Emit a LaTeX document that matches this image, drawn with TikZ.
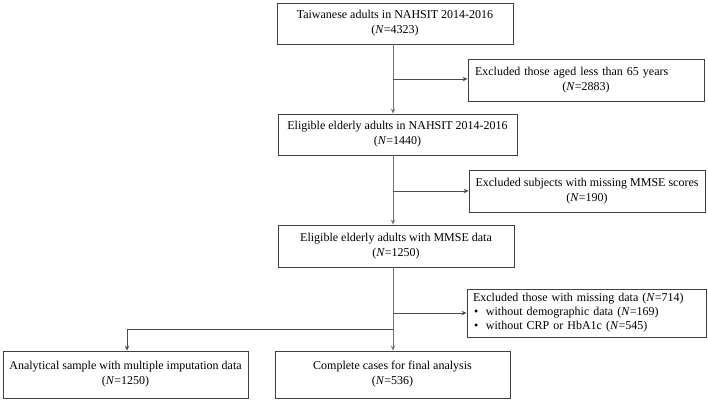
\documentclass[tikz,border=0pt]{standalone}
\usepackage{fontspec}
\setmainfont{Liberation Serif}
\usetikzlibrary{arrows.meta}
\begin{document}
\begin{tikzpicture}[x=1pt,y=-1pt,
  box/.style={draw=black!75,line width=0.9pt,minimum height=#1,inner sep=0pt,align=center,font=\fontsize{12}{15}\selectfont},
  box/.default=41pt,
  vline/.style={draw=black!55,line width=0.9pt},
  hline/.style={draw=black!70,line width=0.7pt},
  tip/.style={-{Stealth[length=5pt,width=4.5pt]}}]
\useasboundingbox (0,0) rectangle (708,400);
\node[box,minimum width=236pt] (b1) at (395,23.5) {Taiwanese adults in NAHSIT 2014-2016\\(\textit{N}=4323)};
\node[box,minimum width=239pt] (b2) at (397.5,134.5) {Eligible elderly adults in NAHSIT 2014-2016\\(\textit{N}=1440)};
\node[box=42pt,minimum width=236pt] (b3) at (396,246) {Eligible elderly adults with MMSE data\\(\textit{N}=1250)};
\node[box=47pt,minimum width=245pt] (b4) at (125.5,374.5) {Analytical sample with multiple imputation data\\(\textit{N}=1250)};
\node[box=47pt,minimum width=235pt] (b5) at (392.5,374.5) {Complete cases for final analysis\\(\textit{N}=536)};
\node[box=42pt,minimum width=236pt,text width=222pt,align=left] (e1) at (586,80) {Excluded those aged less than 65 years\\\makebox[222pt]{(\textit{N}=2883)}};
\node[box=42pt,minimum width=236pt] (e2) at (587,191) {Excluded subjects with missing MMSE scores\\(\textit{N}=190)};
\node[box=48pt,minimum width=239pt,text width=227pt,align=left,font=\fontsize{12}{14}\selectfont] (e3) at (586.5,313) {Excluded those with missing data (\textit{N}=714)\\
\makebox[13pt][l]{\hspace*{1pt}•}without demographic data (\textit{N}=169)\\
\makebox[13pt][l]{\hspace*{1pt}•}without CRP or HbA1c (\textit{N}=545)};
\coordinate (j1) at (393,79);
\coordinate (j2) at (393,191);
\coordinate (j3) at (393,313);
\coordinate (s) at (393,329);
\coordinate (sl) at (127,329);
\draw[vline,tip] (b1.south -| j1) -- (b2.north -| j1);
\draw[vline,tip] (b2.south -| j2) -- (b3.north -| j2);
\draw[vline,tip] (b3.south -| s) -- (b5.north -| s);
\draw[hline,tip] (j1) -- (e1.west |- j1);
\draw[hline,tip] (j2) -- (e2.west |- j2);
\draw[hline,tip] (j3) -- (e3.west |- j3);
\draw[hline,tip] (s) -- (sl) -- (b4.north -| sl);
\end{tikzpicture}
\end{document}
